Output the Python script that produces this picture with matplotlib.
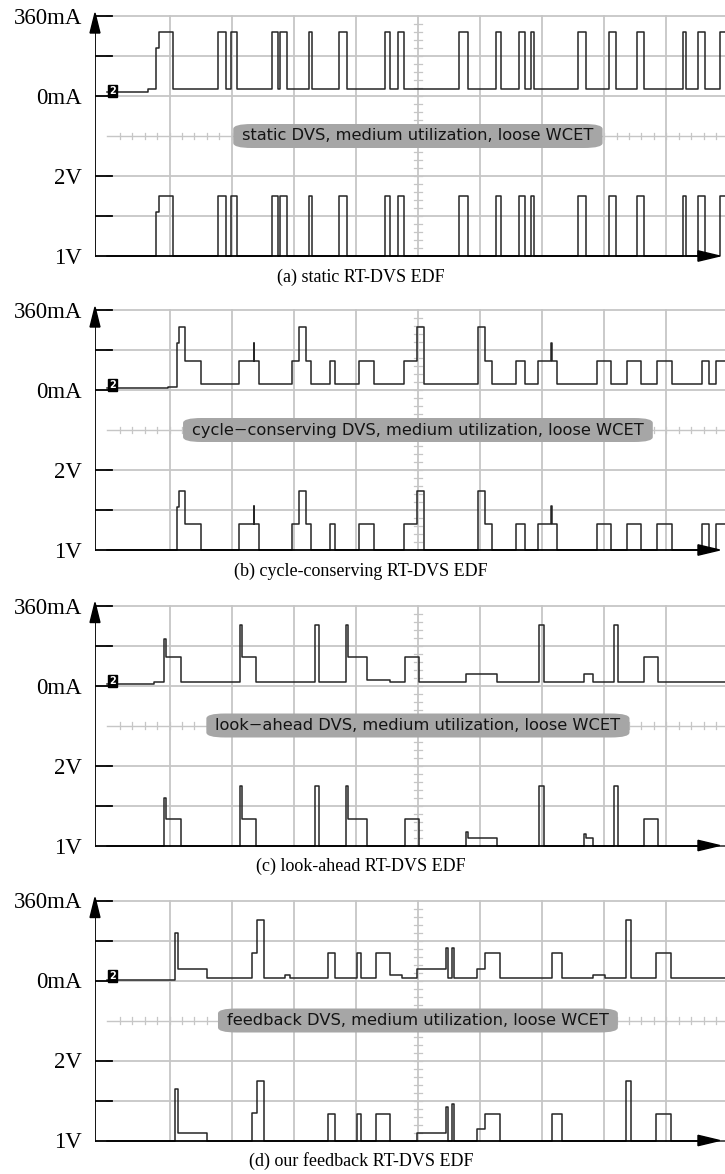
import numpy as np
import matplotlib.pyplot as plt
from matplotlib.patches import FancyBboxPatch, Polygon

# time in screen divisions (10 div across the scope screen)
# current in mA (180 mA/div, 0 mA two div below top), voltage in V (0.5 V/div, 1 V at bottom)

# (a) static RT-DVS
a_t = [0.0, 0.65, 0.776, 0.827, 1.064, 1.788, 1.917, 1.994, 2.090, 2.647, 2.744, 2.776, 2.891,
       3.244, 3.295, 3.724, 3.853, 4.462, 4.558, 4.673, 4.782, 5.660, 5.808, 6.256, 6.340,
       6.628, 6.724, 6.814, 6.865, 7.571, 7.699, 8.083, 8.192, 8.532, 8.641, 9.269, 9.314,
       9.513, 9.622, 9.865]
a_ma = [20, 30, 214, 290, 30, 290, 30, 290, 30, 290, 30, 290, 30,
        290, 30, 290, 30, 290, 30, 290, 30, 290, 30, 290, 30,
        290, 30, 290, 30, 290, 30, 290, 30, 290, 30, 290, 30,
        290, 30, 290]
a_v = [1.0, 1.0, 1.55, 1.75, 1.0, 1.75, 1.0, 1.75, 1.0, 1.75, 1.0, 1.75, 1.0,
       1.75, 1.0, 1.75, 1.0, 1.75, 1.0, 1.75, 1.0, 1.75, 1.0, 1.75, 1.0,
       1.75, 1.0, 1.75, 1.0, 1.75, 1.0, 1.75, 1.0, 1.75, 1.0, 1.75, 1.0,
       1.75, 1.0, 1.75]

# (b) cycle-conserving RT-DVS
b_t = [0.0, 0.97, 1.115, 1.16, 1.256, 1.513, 2.122, 2.356, 2.366, 2.442, 2.974, 3.083, 3.192,
       3.276, 3.577, 3.660, 4.045, 4.288, 4.769, 4.987, 5.103, 5.968, 6.083, 6.192, 6.577,
       6.724, 6.929, 7.150, 7.160, 7.237, 7.891, 8.115, 8.372, 8.596, 8.853, 9.090, 9.577,
       9.686, 9.801]
b_ma = [7, 15, 210, 282, 132, 27, 132, 210, 132, 27, 132, 282, 132,
        27, 132, 27, 132, 27, 132, 282, 27, 282, 132, 27, 132,
        27, 132, 210, 132, 27, 132, 27, 132, 27, 132, 27, 132,
        27, 132]
b_v = [1.0, 1.0, 1.54, 1.74, 1.33, 1.0, 1.33, 1.55, 1.33, 1.0, 1.33, 1.74, 1.33,
       1.0, 1.33, 1.0, 1.33, 1.0, 1.33, 1.74, 1.0, 1.74, 1.33, 1.0, 1.33,
       1.0, 1.33, 1.55, 1.33, 1.0, 1.33, 1.0, 1.33, 1.0, 1.33, 1.0, 1.33,
       1.0, 1.33]

# (c) look-ahead RT-DVS
c_t = [0.0, 0.744, 0.872, 0.904, 0.936, 1.192, 2.135, 2.160, 2.391, 3.340, 3.404, 3.840,
       3.872, 4.186, 4.545, 4.795, 5.019, 5.776, 5.808, 6.269, 6.949, 7.038, 7.667, 7.699,
       7.827, 8.160, 8.224, 8.641, 8.872]
c_ma = [6, 18, 15, 210, 127, 15, 273, 127, 15, 273, 15, 273,
        127, 25, 15, 127, 15, 51, 51, 15, 273, 15, 51, 51,
        15, 273, 15, 127, 15]
c_v = [1.0, 1.0, 1.0, 1.59, 1.33, 1.0, 1.74, 1.33, 1.0, 1.74, 1.0, 1.74,
       1.33, 1.0, 1.0, 1.33, 1.0, 1.175, 1.1, 1.0, 1.74, 1.0, 1.14, 1.1,
       1.0, 1.74, 1.0, 1.33, 1.0]

# (d) feedback RT-DVS
d_t = [0.0, 1.096, 1.141, 1.609, 2.333, 2.410, 2.526, 2.859, 2.942, 3.545, 3.660, 4.013,
       4.077, 4.321, 4.558, 4.750, 4.987, 5.455, 5.481, 5.551, 5.577, 5.949, 6.077, 6.321,
       7.154, 7.327, 7.827, 8.019, 8.353, 8.436, 8.833, 9.077]
d_ma = [4, 213, 50, 11, 123, 273, 11, 25, 11, 123, 11, 123,
        11, 123, 25, 11, 50, 148, 11, 148, 11, 50, 123, 11,
        123, 11, 25, 11, 273, 11, 123, 11]
d_v = [1.0, 1.64, 1.1, 1.0, 1.34, 1.74, 1.0, 1.0, 1.0, 1.33, 1.0, 1.33,
       1.0, 1.33, 1.0, 1.0, 1.1, 1.42, 1.0, 1.46, 1.0, 1.14, 1.33, 1.0,
       1.33, 1.0, 1.0, 1.0, 1.74, 1.0, 1.33, 1.0]

labels = ["static DVS, medium utilization, loose WCET",
          "cycle\u2212conserving DVS, medium utilization, loose WCET",
          "look\u2212ahead DVS, medium utilization, loose WCET",
          "feedback DVS, medium utilization, loose WCET"]
captions = ["(a) static RT-DVS EDF", "(b) cycle-conserving RT-DVS EDF",
            "(c) look-ahead RT-DVS EDF", "(d) our feedback RT-DVS EDF"]
tick_text = {6: "360mA", 4: "0mA", 2: "2V", 0: "1V"}

panels = [(a_t, a_ma, a_v), (b_t, b_ma, b_v), (c_t, c_ma, c_v), (d_t, d_ma, d_v)]

W, H = 725, 1174
fig = plt.figure(figsize=(W / 100, H / 100), dpi=100)
y0_px = [256, 550, 845.5, 1140.5]   # pixel row of the 1V line in each panel
x_end = 9.945
grid_c = "#c6c6c6"
trace_c = "#262626"

for i, (t, ma, v) in enumerate(panels):
    y0 = y0_px[i]
    ax = fig.add_axes([95 / W, 1 - (y0 + 16) / H, 630 / W, 272 / H])
    ax.set_xlim(-0.2, x_end)
    ax.set_ylim(-0.4, 6.4)
    ax.axis("off")

    # graticule
    for gy in [1, 2, 4, 5, 6]:
        ax.plot([0, x_end], [gy, gy], color=grid_c, lw=1.3, zorder=1)
    ax.plot([0, x_end], [3, 3], color=grid_c, lw=1.0, zorder=1)
    for gx in range(1, 10):
        ax.plot([gx, gx], [0, 6], color=grid_c, lw=1.3, zorder=1)
    for k in np.arange(0.2, 10, 0.2):
        ax.plot([k, k], [2.92, 3.08], color=grid_c, lw=0.9, zorder=1)
    for k in np.arange(0.2, 6, 0.2):
        ax.plot([4.94, 5.06], [k, k], color=grid_c, lw=0.9, zorder=1)

    # axes with arrows
    ax.plot([-0.2, -0.2], [0, 5.6], color="black", lw=1.3, zorder=4)
    ax.plot([-0.2, 9.55], [0, 0], color="black", lw=1.3, zorder=4)
    ax.add_patch(Polygon([[-0.28, 5.575], [-0.12, 5.575], [-0.2, 6.075]],
                         closed=True, color="black", zorder=5, clip_on=False))
    ax.add_patch(Polygon([[9.51, 0.13], [9.51, -0.13], [9.86, 0]],
                         closed=True, color="black", zorder=5, clip_on=False))
    for gy in [1, 2, 4, 5, 6]:
        ax.plot([-0.2, 0.07], [gy, gy], color="black", lw=1.3, zorder=4)
    for gy, s in tick_text.items():
        ax.text(-0.41, gy, s, ha="right", va="center_baseline", fontsize=16.5,
                family="Liberation Serif", clip_on=False)

    # traces
    tt = np.append(t, x_end + 0.5)
    cur_div = 4 + np.append(ma, ma[-1]) / 180.0
    volt_div = (np.append(v, v[-1]) - 1.0) / 0.5
    ax.step(tt, cur_div, where="post", color=trace_c, lw=1.1, zorder=3)
    ax.step(tt, volt_div, where="post", color=trace_c, lw=1.1, zorder=3)

    # channel marker
    ax.text(0.08, 4.12, "2", ha="center", va="center", fontsize=7, color="white",
            fontweight="bold", zorder=6,
            bbox=dict(boxstyle="square,pad=0.12", fc="black", ec="black"))

    # label pill
    txt = ax.text(5, 3, labels[i], ha="center", va="center", fontsize=11.7,
                  family="DejaVu Sans", color="#141414", zorder=7)
    fig.canvas.draw()
    bb = txt.get_window_extent().transformed(ax.transData.inverted())
    padx = 9 / 62.1
    ax.add_patch(FancyBboxPatch((bb.x0 - padx, 3 - 0.3), bb.width + 2 * padx, 0.6,
                                boxstyle="round,pad=0,rounding_size=0.3",
                                mutation_aspect=1 / 2.4, fc="#a6a6a6", ec="none",
                                zorder=6))

    fig.text(361 / W, 1 - (y0 + 21) / H, captions[i], ha="center", va="center",
             fontsize=13, family="Liberation Serif")

fig.savefig("out.png", dpi=100, facecolor="white")
